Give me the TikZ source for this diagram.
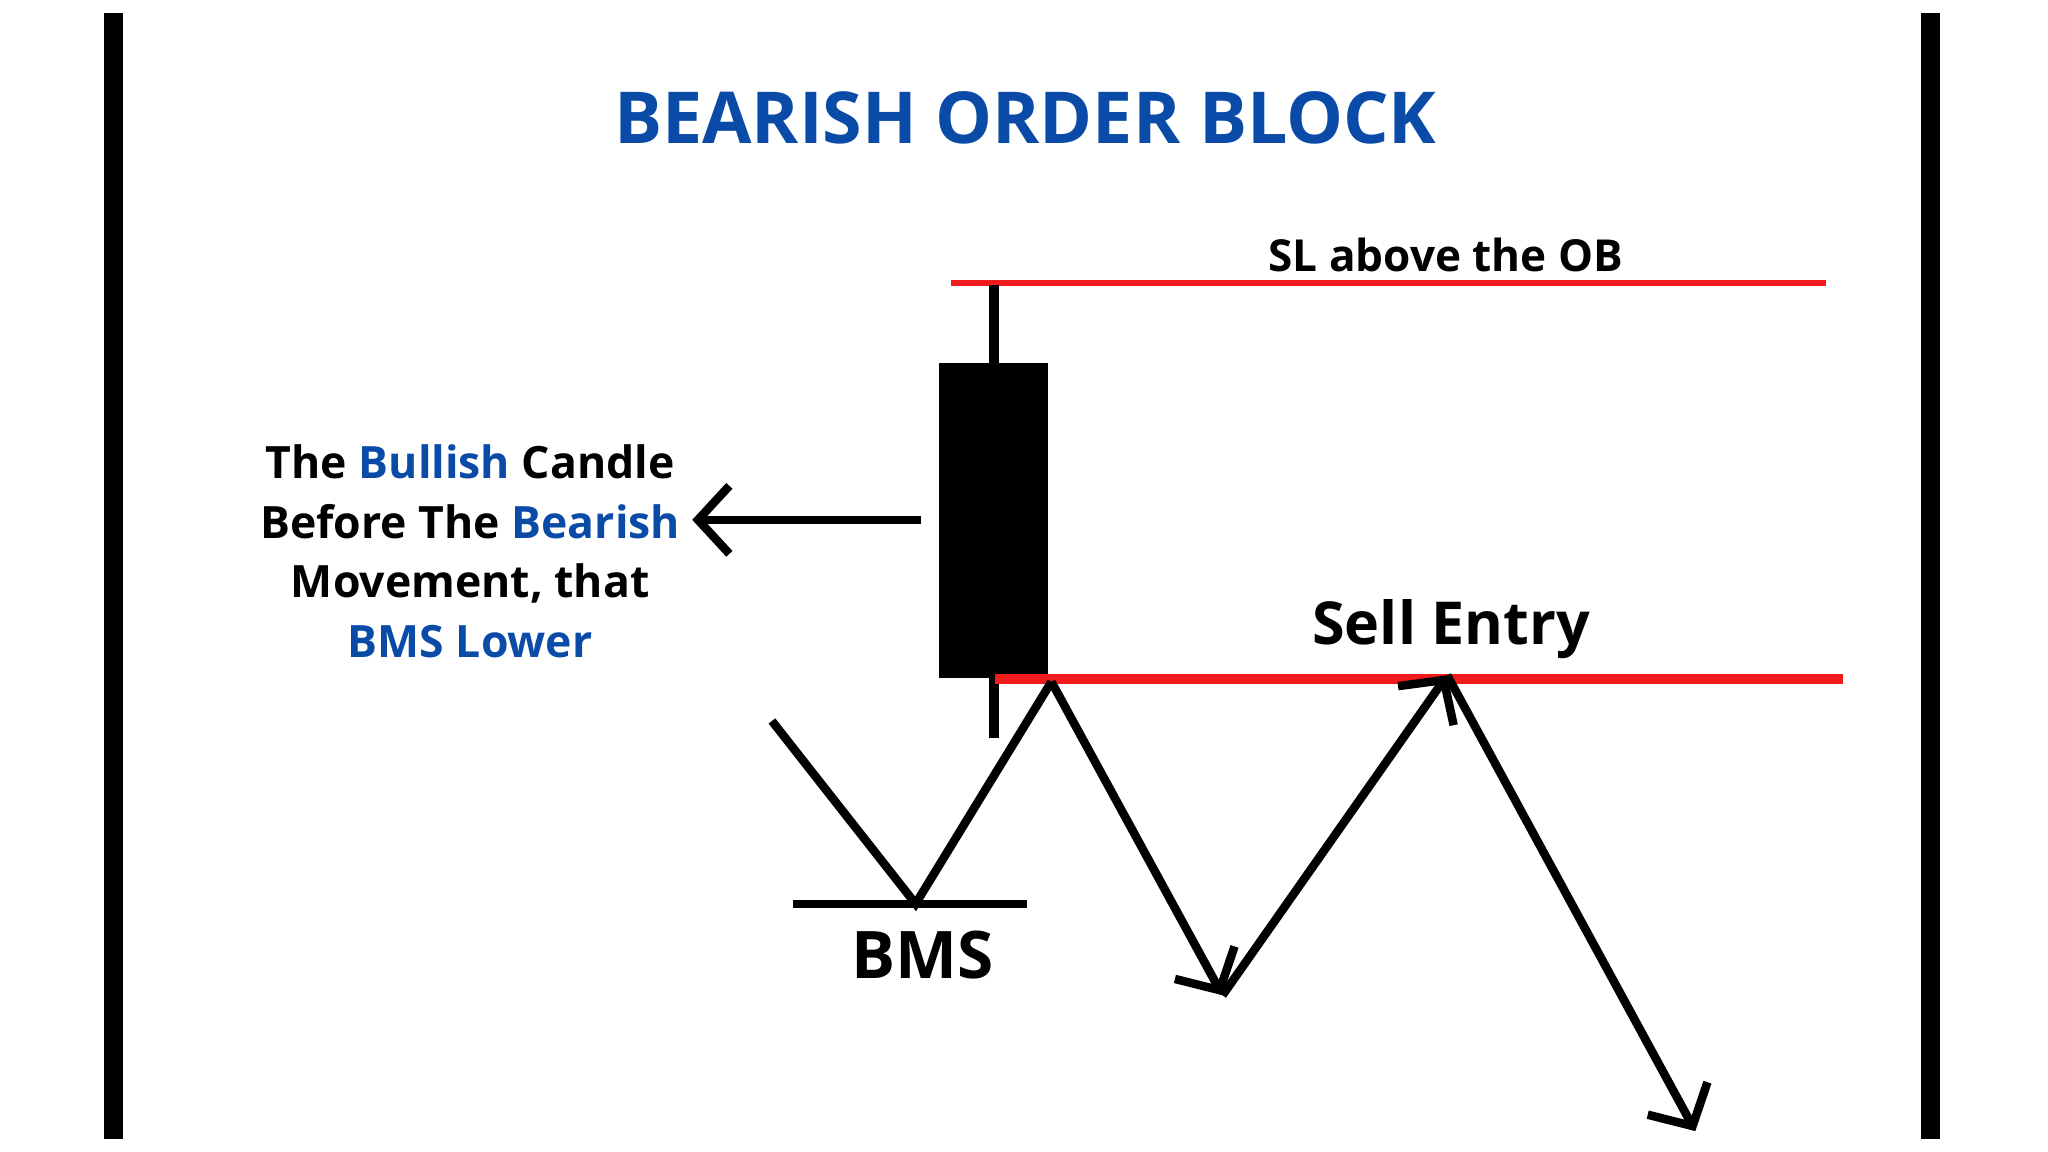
\documentclass[tikz,border=0pt]{standalone}
\usepackage{fontspec}
\setmainfont{Open Sans}
\usetikzlibrary{arrows.meta}
\definecolor{obblue}{HTML}{0B4BA8}
\definecolor{obred}{HTML}{F21B1B}
\tikzset{
    bar/.style={line width=0.14cm},
    level/.style={obred, line width=#1},
    move/.style={line width=0.065cm, line join=miter},
    tip/.style={-{Straight Barb[length=0.24cm,width=0.52cm,line width=0.065cm]}},
    label/.style={font=\bfseries, inner sep=0pt}
}
\begin{document}
\begin{tikzpicture}[x=0.01cm, y=-0.01cm]
    \useasboundingbox (0,0) rectangle (1568,882);
    % frame
    \draw[bar] (87,10) -- (87,872);
    \draw[bar] (1478,10) -- (1478,872);
    \node[label, obblue, font=\fontsize{15.6}{18}\selectfont\bfseries] (title) at (785,90) {BEARISH ORDER BLOCK};
    % stop loss level
    \coordinate (slL) at (728,217);
    \coordinate (slR) at (1398,217);
    \draw[level=0.045cm] (slL) -- (slR);
    \node[label, font=\fontsize{9.6}{12}\selectfont\bfseries] (sl) at (1107,195) {SL above the OB};
    % candle
    \coordinate (wickT) at (761,218);
    \coordinate (wickB) at (761,565);
    \draw[line width=0.07cm] (wickT) -- (wickB);
    \node[fill=black, minimum width=0.83cm, minimum height=2.41cm, inner sep=0pt] (candle) at (760.5,398.5) {};
    % entry level
    \coordinate (entL) at (762,520);
    \coordinate (entR) at (1411,520);
    \draw[level=0.08cm] (entL) -- (entR);
    \node[label, font=\fontsize{12.9}{15}\selectfont\bfseries] (entry) at (1111,482) {Sell Entry};
    % explanation
    \node[label, align=center, font=\fontsize{9.7}{13}\selectfont\bfseries] (note) at (360,422)
        {The \textcolor{obblue}{Bullish} Candle\\Before The \textcolor{obblue}{Bearish}\\Movement, that\\\textcolor{obblue}{BMS Lower}};
    \coordinate (noteA) at (705,398);
    \coordinate (noteB) at (530,398);
    \draw[move, tip] (noteA) -- (noteB);
    % price path
    \coordinate (p0) at (591,552);
    \coordinate (p1) at (701,692);
    \coordinate (p2) at (805,522);
    \coordinate (p3) at (936,762);
    \coordinate (p4) at (1108,517);
    \coordinate (p5) at (1298,866);
    \draw[move] (p0) -- (p1) -- (p2);
    \draw[move, tip] (p2) -- (p3);
    \draw[move, tip] (p3) -- (p4);
    \draw[move, tip] (p4) -- (p5);
    % break of market structure
    \coordinate (bmsL) at (607,692);
    \coordinate (bmsR) at (786,692);
    \draw[line width=0.06cm] (bmsL) -- (bmsR);
    \node[label, font=\fontsize{14.3}{17}\selectfont\bfseries] (bms) at (706,731) {BMS};
\end{tikzpicture}
\end{document}
